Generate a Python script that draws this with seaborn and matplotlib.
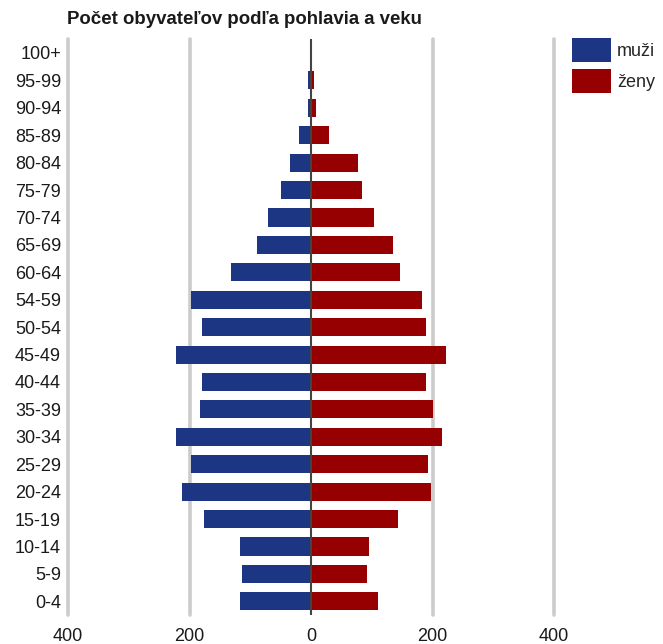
import matplotlib
matplotlib.use("Agg")
import matplotlib.pyplot as plt
import seaborn as sns
import pandas as pd

ages = ["100+", "95-99", "90-94", "85-89", "80-84", "75-79", "70-74", "65-69",
        "60-64", "54-59", "50-54", "45-49", "40-44", "35-39", "30-34", "25-29",
        "20-24", "15-19", "10-14", "5-9", "0-4"]
muzi = [0, 5, 5, 20, 35, 49, 71, 89, 132, 198, 179, 223, 179, 183, 223, 198,
        212, 176, 117, 114, 117]
zeny = [0, 5, 9, 30, 78, 84, 103, 135, 146, 183, 190, 222, 190, 200, 215, 193,
        197, 143, 95, 92, 110]
xticks = [-400, -200, 0, 200, 400]

sns.set_theme(style="white")
plt.rcParams['font.family'] = ['Liberation Sans', 'DejaVu Sans']

df = pd.DataFrame({
    "vek": ages * 2,
    "pocet": [-v for v in muzi] + zeny,
    "pohlavie": ["muži"] * len(ages) + ["ženy"] * len(ages),
})

fig = plt.figure(figsize=(6.63, 6.44), dpi=100)
ax = fig.add_axes([0.1026, 0.045, 0.7330, 0.894])

for x in xticks:
    if x != 0:
        ax.axvline(x, color="#cccccc", lw=2.6, zorder=0, clip_on=False)

sns.barplot(data=df, x="pocet", y="vek", hue="pohlavie", order=ages,
            palette={"muži": "#1c3683", "ženy": "#970000"}, dodge=False,
            saturation=1, width=0.66, orient="h", ax=ax, legend=True,
            zorder=2, edgecolor="none")
ax.axvline(0, color="#444444", lw=1.5, zorder=3)

ax.set_xlim(-400, 400)
ax.set_ylim(len(ages) - 0.5, -0.5)
ax.set_xticks(xticks)
ax.set_xticklabels([str(abs(x)) for x in xticks], fontsize=13, color="#1a1a1a")
ax.tick_params(axis="y", labelsize=13, colors="#1a1a1a", length=0, pad=5)
ax.tick_params(axis="x", length=0, pad=9.5)
ax.set_xlabel("")
ax.set_ylabel("")
for s in ax.spines.values():
    s.set_visible(False)

handles, labels = ax.get_legend_handles_labels()
ax.get_legend().remove()
fig.legend(handles, labels, loc="upper left", bbox_to_anchor=(0.8627, 0.941),
           frameon=False, fontsize=13, handlelength=2.17, handleheight=1.63,
           handletextpad=0.33, labelspacing=0.42, borderaxespad=0,
           borderpad=0)

fig.text(0.101, 0.969, "Počet obyvateľov podľa pohlavia a veku", fontsize=13.4,
         fontweight="bold", ha="left", va="center", color="#1a1a1a")

fig.savefig("out.png", dpi=100)
